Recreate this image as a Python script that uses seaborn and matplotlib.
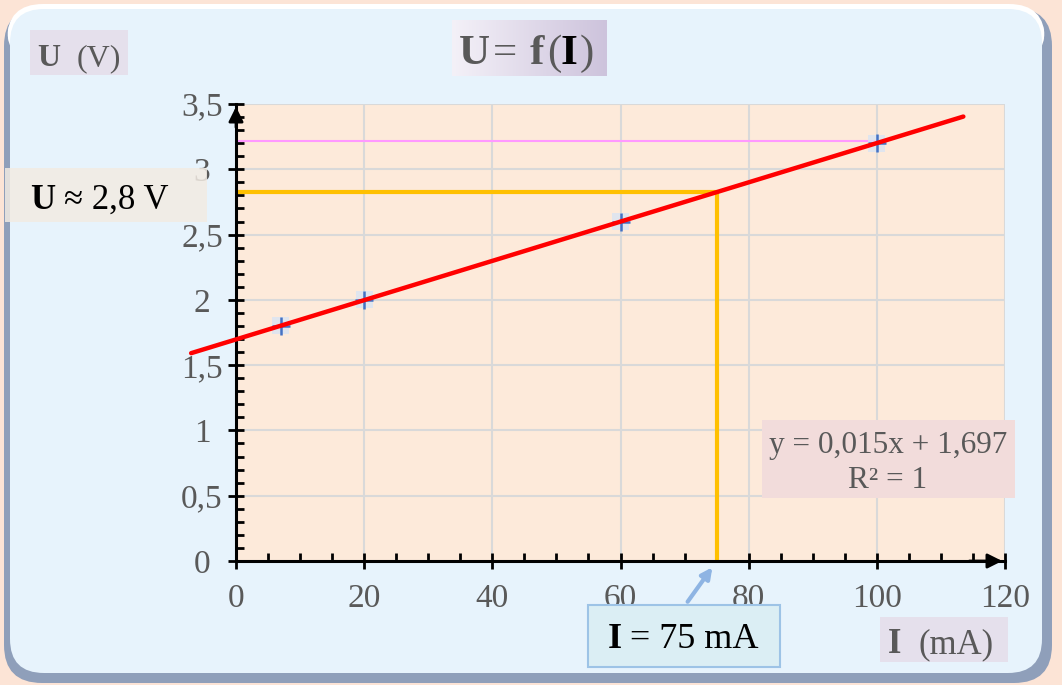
import numpy as np
import matplotlib.pyplot as plt
import seaborn as sns
from matplotlib.patches import FancyBboxPatch, Rectangle
from matplotlib.ticker import MultipleLocator, FuncFormatter

# measured points U = f(I)
I_mA = [7, 20, 60, 100]
U_V = [1.8, 2.0, 2.6, 3.2]
trend_range = [-7, 113.5]
I_read = 75
pink_level = 3.22
x_ticks = [0, 20, 40, 60, 80, 100, 120]
y_ticks = [0, 0.5, 1, 1.5, 2, 2.5, 3, 3.5]

slope, intercept = np.polyfit(I_mA, U_V, 1)
U_read = slope * I_read + intercept
trend_U = [slope * v + intercept for v in trend_range]

sns.set_style("white")
plt.rcParams['font.family'] = ['Liberation Serif', 'DejaVu Serif']

W, H = 1062, 685
GRAY = '#595959'
fig = plt.figure(figsize=(W / 100, H / 100), dpi=100, facecolor='#FCE4D6')

# background panel (pixel coords)
bg = fig.add_axes([0, 0, 1, 1], zorder=0)
bg.set_xlim(0, W)
bg.set_ylim(H, 0)
bg.axis('off')
bg.add_patch(FancyBboxPatch((4, 8), 1048, 675, boxstyle='round,pad=0,rounding_size=38',
                            fc='#8F9FBA', ec='none'))
bg.add_patch(FancyBboxPatch((7, 4), 1038, 60, boxstyle='round,pad=0,rounding_size=36',
                            fc='#FFFFFF', ec='none'))
bg.add_patch(FancyBboxPatch((10, 9), 1032, 664, boxstyle='round,pad=0,rounding_size=34',
                            fc='#E7F3FC', ec='none'))

# main chart
ax = fig.add_axes([236 / W, 1 - 561 / H, (1005 - 236) / W, (561 - 104) / H], zorder=1)
ax.set_facecolor('#FDEADA')
ax.set_xlim(0, 120)
ax.set_ylim(0, 3.5)
ax.set_axisbelow(True)
ax.grid(True, which='major', color='#D9D9D9', lw=1.5)

ax.plot([0, I_mA[-1]], [pink_level, pink_level], color='#FF99FF', lw=1.5, zorder=2)
ax.plot([0, I_read], [U_read, U_read], color='#FFC000', lw=3, zorder=2.5)
ax.plot([I_read, I_read], [0, U_read], color='#FFC000', lw=3, zorder=2.5)

sns.scatterplot(x=I_mA, y=U_V, marker='s', s=150, color='#D9E4F4', alpha=0.8,
                edgecolor='none', ax=ax, zorder=2.6)
sns.scatterplot(x=I_mA, y=U_V, marker='+', s=160, color='#4472C4', linewidth=1.8,
                ax=ax, zorder=2.7)
sns.lineplot(x=trend_range, y=trend_U, color='#FF0000', lw=3.2, ax=ax, zorder=3, clip_on=False)

for s in ['top', 'right']:
    ax.spines[s].set_visible(False)
for s in ['left', 'bottom']:
    ax.spines[s].set_linewidth(2.2)
    ax.spines[s].set_color('black')

ax.set_xticks(x_ticks)
ax.set_yticks(y_ticks)
ax.xaxis.set_minor_locator(MultipleLocator(5))
ax.yaxis.set_minor_locator(MultipleLocator(0.1))
comma = FuncFormatter(lambda v, p: f"{v:g}".replace('.', ','))
ax.xaxis.set_major_formatter(comma)
ax.yaxis.set_major_formatter(comma)
ax.tick_params(which='major', direction='inout', length=11, width=2, color='black',
               labelsize=24, labelcolor=GRAY)
ax.tick_params(axis='x', which='major', pad=11)
ax.tick_params(axis='y', which='major', pad=19)
ax.tick_params(which='minor', direction='in', length=5.5, width=2, color='black')
ax.tick_params(bottom=True, left=True, top=False, right=False)
ax.tick_params(which='minor', bottom=True, left=True, top=False, right=False)
for lab in ax.get_yticklabels():
    lab.set_horizontalalignment('center')

ax.annotate('', xy=(0, 3.5), xytext=(0, 3.3), annotation_clip=False,
            arrowprops=dict(arrowstyle='-|>', color='black', lw=2, mutation_scale=22))
ax.annotate('', xy=(120, 0), xytext=(114, 0), annotation_clip=False,
            arrowprops=dict(arrowstyle='-|>', color='black', lw=2, mutation_scale=22))

# overlay with labels and boxes (pixel coords)
fg = fig.add_axes([0, 0, 1, 1], zorder=3)
fg.set_xlim(0, W)
fg.set_ylim(H, 0)
fg.axis('off')
fg.patch.set_alpha(0)

# title with gradient box
grad = np.linspace(0, 1, 256).reshape(1, -1)
cmap = sns.blend_palette(['#F4F1F8', '#CDC3DC'], as_cmap=True)
fg.imshow(grad, extent=(452, 607, 76, 20), cmap=cmap, aspect='auto', zorder=1)
fg.set_xlim(0, W)
fg.set_ylim(H, 0)
fg.text(459, 64, 'U', fontsize=31, fontweight='bold', color=GRAY, zorder=2)
fg.text(493, 64, '=', fontsize=31, color=GRAY, zorder=2)
fg.text(530, 64, 'f', fontsize=31, fontweight='bold', color=GRAY, zorder=2)
fg.text(547, 64, '(', fontsize=31, color=GRAY, zorder=2)
fg.text(561, 64, 'I', fontsize=31, fontweight='bold', color='black', zorder=2)
fg.text(580, 64, ')', fontsize=31, color=GRAY, zorder=2)

# axis labels
fg.add_patch(Rectangle((30, 30), 98, 45, fc='#E5E0EC', ec='none'))
fg.text(37, 66, 'U', fontsize=23, fontweight='bold', color=GRAY)
fg.text(77, 66, '(V)', fontsize=23, color=GRAY)
fg.add_patch(Rectangle((880, 617), 128, 45, fc='#E5E0EC', ec='none'))
fg.text(888, 653, 'I', fontsize=25, fontweight='bold', color=GRAY)
fg.text(918, 653, '(mA)', fontsize=25, color=GRAY)

# read value U
fg.add_patch(Rectangle((5, 168), 202, 54, fc='#F2EBE3', ec='none', alpha=0.85))
fg.text(30, 209, 'U', fontsize=25, fontweight='bold', color='black')
fg.text(64, 209, '\u2248 ' + f"{U_read:.1f}".replace('.', ',') + ' V', fontsize=25, color='black')

# read value I
fg.add_patch(Rectangle((588, 605), 192, 62, fc='#DBEEF4', ec='#9DC3E6', lw=1.5))
fg.text(608, 648, 'I', fontsize=26, fontweight='bold', color='black')
fg.text(630, 648, f'= {I_read} mA', fontsize=26, color='black')
fg.annotate('', xy=(714, 565), xytext=(686, 604),
            arrowprops=dict(arrowstyle='-|>', color='#8EB4E3', lw=3, mutation_scale=16))

# trendline equation
fg.add_patch(Rectangle((762, 420), 253, 78, fc='#F2DCDB', ec='none'))
eq = f"y = {slope:.3f}x + {intercept:.3f}".replace('.', ',')
fg.text(888, 453, eq, fontsize=22.5, color=GRAY, ha='center')
fg.text(888, 488, 'R\u00b2 = 1', fontsize=22.5, color=GRAY, ha='center')

fig.savefig('out.png', dpi=100, facecolor=fig.get_facecolor())
